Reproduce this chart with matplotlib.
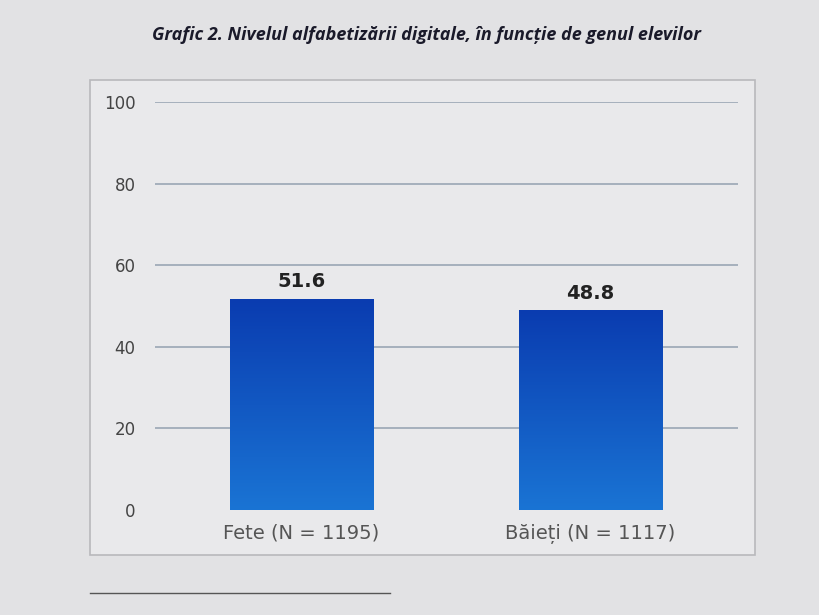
import matplotlib
matplotlib.use("Agg")
import matplotlib.pyplot as plt
import numpy as np
from matplotlib.colors import LinearSegmentedColormap
from matplotlib.patches import Rectangle

categories = ["Fete (N = 1195)", "Băieți (N = 1117)"]
values = [51.6, 48.8]
yticks = [0, 20, 40, 60, 80, 100]

fig = plt.figure(figsize=(8.2, 6.15), dpi=100)
fig.patch.set_facecolor("#e2e2e4")

fig.patches.append(Rectangle((90/820, 1-555/615), 665/820, 475/615, transform=fig.transFigure,
                             facecolor="#e9e9eb", edgecolor="#b8b8bc", lw=1.2, zorder=-5))
fig.add_artist(plt.Line2D([90/820, 390/820], [1-593/615]*2, color="#555", lw=1))

fig.text(0.52, 1-35/615, "Grafic 2. Nivelul alfabetizării digitale, în funcție de genul elevilor",
         ha="center", va="center", fontsize=13, fontweight="bold", style="italic",
         color="#1a1a2a", family="Open Sans")

ax = fig.add_axes([155/820, 1-510/615, 583/820, 408/615])
ax.set_zorder(5)
ax.set_facecolor("none")
for s in ax.spines.values():
    s.set_visible(False)
ax.set_yticks(yticks)
ax.set_yticklabels([str(t) for t in yticks], fontsize=12, color="#444")
ax.tick_params(axis="y", length=0, pad=14)
ax.tick_params(axis="x", length=0, pad=10)
ax.set_xticks(range(len(categories)))
ax.set_xticklabels(categories, fontsize=14, color="#555")
for t in yticks[1:]:
    ax.axhline(t, color="#9aa6b4", lw=1.2, zorder=1)

cmap = LinearSegmentedColormap.from_list("b", ["#1a74d4", "#0a3cb0"])
grad = np.linspace(0, 1, 256).reshape(-1, 1)
w = 0.495
for i, v in enumerate(values):
    ax.imshow(grad, cmap=cmap, origin="lower", aspect="auto",
              extent=[i - w/2, i + w/2, 0, v], zorder=2)
    ax.text(i, v + 2, f"{v}", ha="center", va="bottom", fontsize=14,
            fontweight="bold", color="#222")
ax.set_xlim(-0.507, 1.51)
ax.set_ylim(0, 100)

fig.savefig("out.png", dpi=100, facecolor=fig.get_facecolor())
